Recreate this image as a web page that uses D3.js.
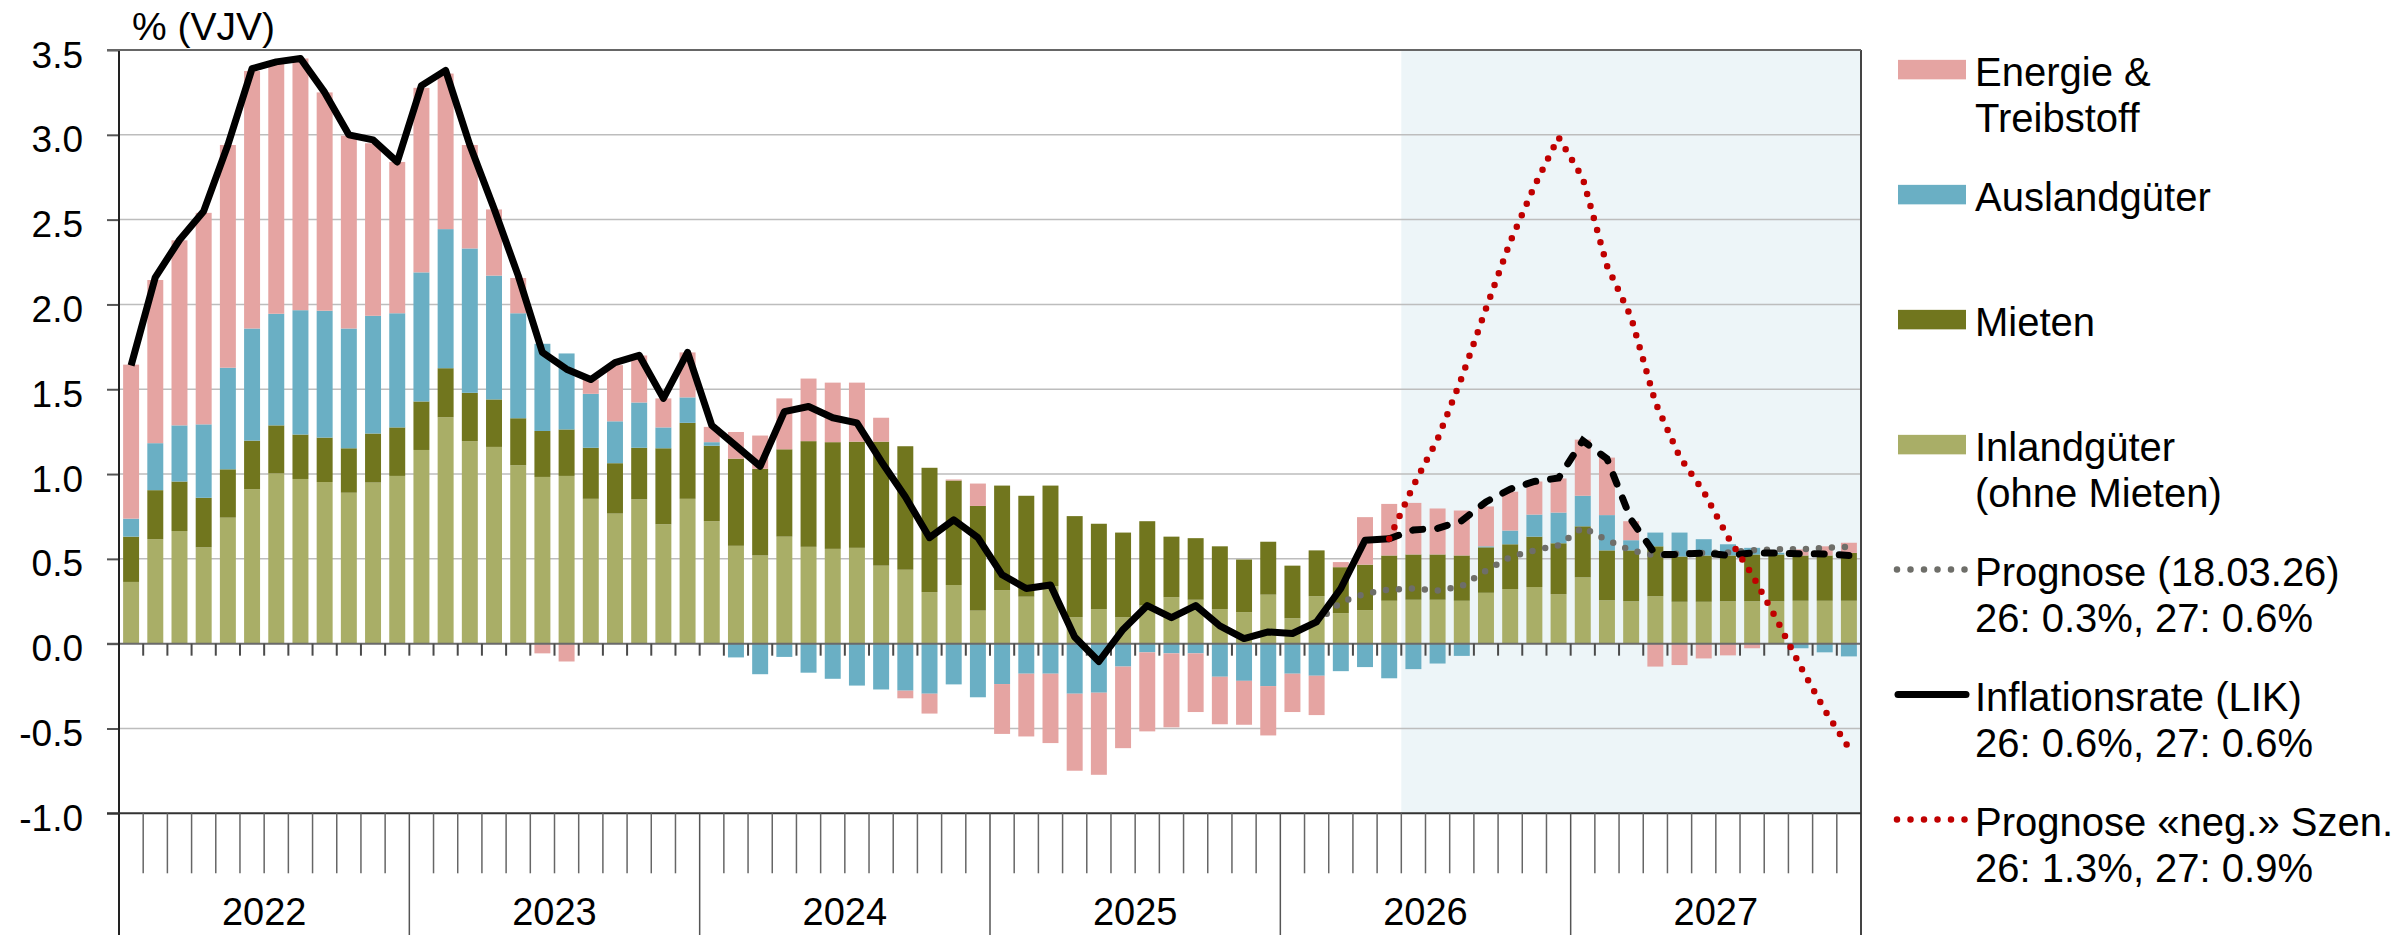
<!DOCTYPE html>
<html>

<head>
  <meta charset="utf-8">
  <title>Inflation Beiträge</title>
  <script src="https://d3js.org/d3.v7.min.js"></script>
  <style>
    body { margin: 0; background: #fff; }
    text { font-family: "Liberation Sans", Arial, sans-serif; fill: #000; }
  </style>
</head>

<body>
  <div id="chart"></div>
  <script>
    // Daten (Monate Jan 2022 - Dez 2027), Beiträge in Prozentpunkten
    var years = ["2022", "2023", "2024", "2025", "2026", "2027"];
    var monthsPerYear = 12;

    var inland = [0.364, 0.616, 0.664, 0.568, 0.743, 0.911, 1.004, 0.971, 0.953, 0.890, 0.950, 0.989,
      1.142, 1.335, 1.194, 1.160, 1.052, 0.983, 0.989, 0.854, 0.767, 0.851, 0.704, 0.854,
      0.722, 0.577, 0.520, 0.631, 0.571, 0.559, 0.565, 0.460, 0.436, 0.304, 0.346, 0.195,
      0.316, 0.277, 0.340, 0.156, 0.204, 0.156, 0.225, 0.274, 0.259, 0.204, 0.186, 0.289,
      0.150, 0.280, 0.180, 0.198, 0.253, 0.259, 0.259, 0.253, 0.300, 0.322, 0.334, 0.292,
      0.391, 0.256, 0.250, 0.280, 0.247, 0.247, 0.250, 0.250, 0.250, 0.253, 0.253, 0.253];

    var mieten = [0.267, 0.289, 0.292, 0.292, 0.285, 0.286, 0.283, 0.262, 0.262, 0.262, 0.289, 0.286,
      0.286, 0.289, 0.285, 0.280, 0.277, 0.271, 0.274, 0.301, 0.297, 0.304, 0.448, 0.448,
      0.445, 0.514, 0.511, 0.515, 0.623, 0.629, 0.626, 0.731, 0.728, 0.733, 0.616, 0.617,
      0.616, 0.595, 0.592, 0.596, 0.503, 0.499, 0.497, 0.357, 0.363, 0.370, 0.310, 0.312,
      0.310, 0.270, 0.271, 0.268, 0.267, 0.267, 0.267, 0.267, 0.268, 0.264, 0.297, 0.300,
      0.301, 0.294, 0.300, 0.294, 0.267, 0.273, 0.270, 0.276, 0.276, 0.267, 0.267, 0.282];

    var ausland = [0.106, 0.277, 0.331, 0.433, 0.599, 0.661, 0.658, 0.733, 0.748, 0.706, 0.694, 0.673,
      0.761, 0.820, 0.851, 0.730, 0.619, 0.514, 0.448, 0.318, 0.247, 0.267, 0.123, 0.150,
      0.021, -0.081, -0.180, -0.078, -0.171, -0.207, -0.247, -0.270, -0.277, -0.295, -0.240, -0.316,
      -0.238, -0.177, -0.177, -0.295, -0.289, -0.135, -0.051, -0.057, -0.057, -0.195, -0.219, -0.250,
      -0.177, -0.189, -0.162, -0.138, -0.204, -0.150, -0.117, -0.072, 0.006, 0.081, 0.130, 0.181,
      0.180, 0.208, 0.060, 0.081, 0.141, 0.096, 0.066, 0.039, 0.010, -0.027, -0.051, -0.075];

    var energie = [0.908, 0.962, 1.091, 1.247, 1.313, 1.518, 1.475, 1.484, 1.287, 1.137, 1.017, 0.892,
      1.088, 0.917, 0.610, 0.390, 0.208, -0.057, -0.105, 0.084, 0.331, 0.277, 0.171, 0.265,
      0.090, 0.157, 0.196, 0.300, 0.369, 0.351, 0.348, 0.141, -0.045, -0.117, 0.006, 0.132,
      -0.294, -0.370, -0.409, -0.454, -0.484, -0.481, -0.466, -0.436, -0.346, -0.280, -0.259, -0.291,
      -0.226, -0.232, 0.030, 0.280, 0.304, 0.304, 0.271, 0.265, 0.235, 0.229, 0.195, 0.201,
      0.331, 0.339, 0.112, -0.135, -0.126, -0.087, -0.069, -0.027, 0.000, 0.036, 0.054, 0.060];

    // Inflationsrate (LIK), Jan 2022 - Mai 2026
    var lik = [1.64, 2.16, 2.38, 2.55, 2.94, 3.39, 3.43, 3.45, 3.25, 3.00, 2.97, 2.84,
      3.29, 3.38, 2.94, 2.565, 2.17, 1.717, 1.618, 1.557, 1.657, 1.70, 1.446, 1.717,
      1.287, 1.167, 1.046, 1.368, 1.398, 1.332, 1.302, 1.076, 0.866, 0.625, 0.73, 0.625,
      0.406, 0.325, 0.346, 0.039, -0.105, 0.084, 0.225, 0.153, 0.225, 0.105, 0.03, 0.069,
      0.06, 0.129, 0.325, 0.61, 0.619];
    var likStart = 0;

    // Prognose ab Mai 2026
    var likPrognose = [0.619, 0.67, 0.68, 0.725, 0.836, 0.911, 0.956, 0.977,
      1.197, 1.09, 0.73, 0.526, 0.526, 0.535, 0.52, 0.535, 0.535, 0.53, 0.529, 0.52];
    var likPrognoseStart = 52;

    // Prognose (18.03.26) ab Feb 2026
    var prognoseMaerz = [0.129, 0.244, 0.295, 0.319, 0.325, 0.313, 0.34, 0.43, 0.511, 0.55, 0.58,
      0.686, 0.61, 0.55, 0.52, 0.532, 0.535, 0.538, 0.55, 0.556, 0.556, 0.565, 0.571];
    var prognoseMaerzStart = 49;

    // Prognose «neg.» Szenario ab Mai 2026
    var prognoseNeg = [0.619, 0.932, 1.206, 1.569, 1.975, 2.369, 2.697, 2.985,
      2.745, 2.228, 1.924, 1.422, 1.103, 0.896, 0.628, 0.406, 0.147, -0.135, -0.391, -0.616];
    var prognoseNegStart = 52;

    var shadeStart = 53; // Prognosebereich
    var yTicks = [-1.0, -0.5, 0.0, 0.5, 1.0, 1.5, 2.0, 2.5, 3.0, 3.5];

    var colors = {
      inland: "#a9ae67",
      mieten: "#71761e",
      ausland: "#6aafc4",
      energie: "#e5a4a2",
      grau: "#6e6e69",
      rot: "#c00000"
    };

    var nMonths = years.length * monthsPerYear;
    var rows = d3.range(nMonths).map(function (i) {
      return { i: i, inland: inland[i], mieten: mieten[i], ausland: ausland[i], energie: energie[i] };
    });
    var keys = ["inland", "mieten", "ausland", "energie"];

    // Dimenzije
    var W = 2397, H = 935;
    var margin = { top: 50, left: 119, right: W - 1861, bottom: H - 813.3 };
    var width = W - margin.left - margin.right;
    var height = H - margin.top - margin.bottom;

    var svg = d3.select("#chart").append("svg")
      .attr("width", W)
      .attr("height", H);

    var g = svg.append("g")
      .attr("transform", "translate(" + margin.left + "," + margin.top + ")");

    var x = d3.scaleBand()
      .domain(d3.range(nMonths))
      .range([0, width])
      .paddingInner(0.34)
      .paddingOuter(0.17);

    var xb = d3.scaleLinear().domain([0, nMonths]).range([0, width]);

    var y = d3.scaleLinear()
      .domain([-1, 3.5])
      .range([height, 0]);

    // Prognose Hintergrund
    g.append("rect")
      .attr("x", xb(shadeStart))
      .attr("y", 0)
      .attr("width", width - xb(shadeStart))
      .attr("height", height)
      .attr("fill", "#edf5f8");

    // Gitterlinien
    g.selectAll(".grid")
      .data(yTicks.filter(function (d) { return d !== 0 && d !== 3.5 && d !== -1; }))
      .join("line")
      .attr("class", "grid")
      .attr("x1", 0)
      .attr("x2", width)
      .attr("y1", function (d) { return y(d); })
      .attr("y2", function (d) { return y(d); })
      .attr("stroke", "#bdbdbd")
      .attr("stroke-width", 1.5);

    // Balken
    var stacked = d3.stack().keys(keys).offset(d3.stackOffsetDiverging)(rows);

    g.selectAll(".serie")
      .data(stacked)
      .join("g")
      .attr("class", "serie")
      .attr("fill", function (d) { return colors[d.key]; })
      .selectAll("rect")
      .data(function (d) { return d; })
      .join("rect")
      .attr("x", function (d) { return x(d.data.i); })
      .attr("width", x.bandwidth())
      .attr("y", function (d) { return y(Math.max(d[0], d[1])); })
      .attr("height", function (d) { return Math.abs(y(d[0]) - y(d[1])); });

    // Nulllinie mit Monatsstrichen
    g.append("line")
      .attr("x1", -12).attr("x2", width)
      .attr("y1", y(0)).attr("y2", y(0))
      .attr("stroke", "#6a6a6a")
      .attr("stroke-width", 2);

    g.selectAll(".zerotick")
      .data(d3.range(1, nMonths))
      .join("line")
      .attr("class", "zerotick")
      .attr("x1", function (d) { return xb(d); })
      .attr("x2", function (d) { return xb(d); })
      .attr("y1", y(0))
      .attr("y2", y(0) + 12)
      .attr("stroke", "#4a4a4a")
      .attr("stroke-width", 2);

    // Linien
    function lineFor(values, start) {
      return d3.line()
        .x(function (d, k) { return xb(start + k + 0.5); })
        .y(function (d) { return y(d); })(values);
    }

    g.append("path")
      .attr("d", lineFor(prognoseMaerz, prognoseMaerzStart))
      .attr("fill", "none")
      .attr("stroke", colors.grau)
      .attr("stroke-width", 6.5)
      .attr("stroke-linecap", "round")
      .attr("stroke-dasharray", "0,13");

    g.append("path")
      .attr("d", lineFor(likPrognose, likPrognoseStart))
      .attr("fill", "none")
      .attr("stroke", "#000")
      .attr("stroke-width", 7)
      .attr("stroke-linecap", "round")
      .attr("stroke-dasharray", "10,15");

    g.append("path")
      .attr("d", lineFor(lik, likStart))
      .attr("fill", "none")
      .attr("stroke", "#000")
      .attr("stroke-width", 7)
      .attr("stroke-linejoin", "round");

    g.append("path")
      .attr("d", lineFor(prognoseNeg, prognoseNegStart))
      .attr("fill", "none")
      .attr("stroke", colors.rot)
      .attr("stroke-width", 6.5)
      .attr("stroke-linecap", "round")
      .attr("stroke-dasharray", "0,12.5");

    // Y-Achse
    var yAxis = d3.axisLeft(y)
      .tickValues(yTicks)
      .tickSize(12)
      .tickPadding(24)
      .tickFormat(function (d) { return d.toFixed(1); });

    var yAxisG = g.append("g").call(yAxis);
    yAxisG.select(".domain").remove();
    yAxisG.selectAll(".tick line").attr("stroke", "#555").attr("stroke-width", 2);
    yAxisG.selectAll(".tick text")
      .attr("dy", 17)
      .style("font-size", "37px")
      .style("font-family", "'Liberation Sans', Arial, sans-serif")
      .attr("fill", "#000");

    // Rahmen
    g.append("line")
      .attr("x1", 0).attr("x2", 0)
      .attr("y1", 0).attr("y2", H - margin.top)
      .attr("stroke", "#222").attr("stroke-width", 2);
    g.append("line")
      .attr("x1", width).attr("x2", width)
      .attr("y1", 0).attr("y2", H - margin.top)
      .attr("stroke", "#444").attr("stroke-width", 2);
    g.append("line")
      .attr("x1", -12).attr("x2", width)
      .attr("y1", 0).attr("y2", 0)
      .attr("stroke", "#666").attr("stroke-width", 2);
    g.append("line")
      .attr("x1", -12).attr("x2", width)
      .attr("y1", height).attr("y2", height)
      .attr("stroke", "#333").attr("stroke-width", 2);

    // X-Achse: Monatsstriche und Jahre
    g.selectAll(".monthtick")
      .data(d3.range(1, nMonths).filter(function (d) { return d % monthsPerYear !== 0; }))
      .join("line")
      .attr("class", "monthtick")
      .attr("x1", function (d) { return xb(d); })
      .attr("x2", function (d) { return xb(d); })
      .attr("y1", height)
      .attr("y2", height + 60)
      .attr("stroke", "#666")
      .attr("stroke-width", 1.5);

    g.selectAll(".yeartick")
      .data(d3.range(1, years.length))
      .join("line")
      .attr("class", "yeartick")
      .attr("x1", function (d) { return xb(d * monthsPerYear); })
      .attr("x2", function (d) { return xb(d * monthsPerYear); })
      .attr("y1", height)
      .attr("y2", H - margin.top)
      .attr("stroke", "#555")
      .attr("stroke-width", 1.5);

    g.selectAll(".yearlabel")
      .data(years)
      .join("text")
      .attr("class", "yearlabel")
      .attr("x", function (d, k) { return xb((k + 0.5) * monthsPerYear); })
      .attr("y", 925 - margin.top)
      .attr("text-anchor", "middle")
      .style("font-size", "38px")
      .text(function (d) { return d; });

    // Einheit
    svg.append("text")
      .attr("x", 132)
      .attr("y", 40)
      .style("font-size", "39px")
      .text("% (VJV)");

    // Legende
    var legendItems = [
      { label: ["Energie &", "Treibstoff"], type: "bar", color: colors.energie },
      { label: ["Auslandgüter"], type: "bar", color: colors.ausland },
      { label: ["Mieten"], type: "bar", color: colors.mieten },
      { label: ["Inlandgüter", "(ohne Mieten)"], type: "bar", color: colors.inland },
      { label: ["Prognose (18.03.26)", "26: 0.3%, 27: 0.6%"], type: "dot", color: colors.grau },
      { label: ["Inflationsrate (LIK)", "26: 0.6%, 27: 0.6%"], type: "line", color: "#000" },
      { label: ["Prognose «neg.» Szen.", "26: 1.3%, 27: 0.9%"], type: "dot", color: colors.rot }
    ];

    var legend = svg.append("g");
    legendItems.forEach(function (item, k) {
      var cy = 69.6 + k * 125;
      if (item.type === "bar") {
        legend.append("rect")
          .attr("x", 1898).attr("y", cy - 9.75)
          .attr("width", 68).attr("height", 19.5)
          .attr("fill", item.color);
      } else {
        legend.append("line")
          .attr("x1", item.type === "dot" ? 1897 : 1898)
          .attr("x2", 1966)
          .attr("y1", cy).attr("y2", cy)
          .attr("stroke", item.color)
          .attr("stroke-width", item.type === "dot" ? 6.5 : 7)
          .attr("stroke-linecap", "round")
          .attr("stroke-dasharray", item.type === "dot" ? "0,13.5" : null);
      }
      item.label.forEach(function (line, j) {
        legend.append("text")
          .attr("x", 1975)
          .attr("y", cy + 16.5 + j * 45.5)
          .style("font-size", "40px")
          .text(line);
      });
    });
  </script>
</body>

</html>
